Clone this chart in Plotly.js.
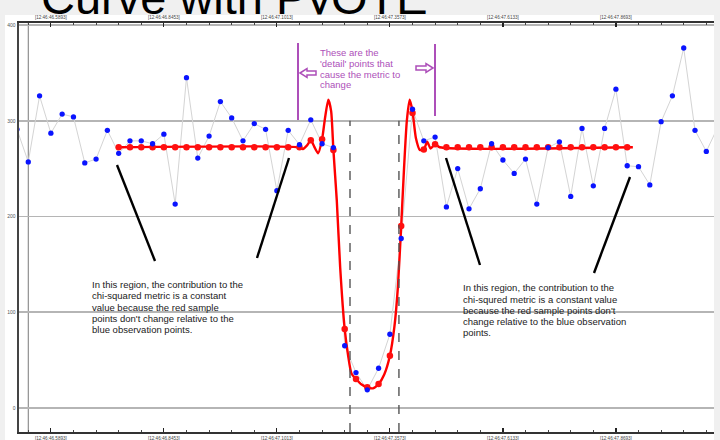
<!DOCTYPE html>
<html><head><meta charset="utf-8">
<script src="https://cdn.plot.ly/plotly-3.0.1.min.js"></script>
<style>html,body{margin:0;padding:0;background:#f0f0f0;} #chart{width:720px;height:440px;}</style>
</head><body><div id="chart"></div>
<script>
// ---- data ----
const obsStart = -1;   // index of first observation
const obsValues = [291,257,326,287,307,304,256,260,290,266,279,279,276,286,213,345,261,284,320,303,
  279,297,291,227,290,275,301,276,272,65,37,19,41.5,77,177,312,279,283,210,250,208,229,276,259,245,
  260,213,272,278,221,292,232,292,333,253,252,233,299,326,376,290,268,293];
const sampleStart = 8;
const sampleValues = [272.3,272.3,272.3,272.3,272.3,272.3,272.3,272.3,272.3,272.3,272.3,272.3,272.3,272.3,272.3,272.3,272.3,
  279.6,280.6,269.5,82.5,30.3,21.6,25,54.6,190,308,270,275.5,
  272.3,272.3,272.3,272.3,272.3,272.3,272.3,272.3,272.3,272.3,272.3,272.3,272.3,272.3,272.3,272.3,272.3];
const curveX = [7.8,23.9,24.3,24.65,25,25.3,25.65,26,26.25,26.55,26.8,27,27.3,27.6,28,28.3,28.6,29,29.5,30,30.5,31,31.5,32,32.4,32.7,33,33.25,33.5,33.75,34,34.3,34.65,35,35.3,35.6,36,36.4,53.5];
const curveY = [272.3,272.3,270.5,274,279.6,273,266,280.6,302,322,310,269.5,217,147,82.5,55,36,30.3,24.5,21.6,20.5,25,35,54.6,85,125,190,250,300,322,310,282,269.5,270,278,271,275.5,272.3,272.3];
const tickIndex = [2,12,22,32,42,52];
const tickLabels = ['[12:46:46.5893]','[12:46:46.8453]','[12:46:47.1013]','[12:46:47.3573]','[12:46:47.6133]','[12:46:47.8693]'];
const yTicks = [0,100,200,300,400];
const edgeLeft = 28.47, edgeRight = 32.8;

// ---- geometry helpers (pixel -> data) ----
const XR = [-0.82, 60.68], YR = [-25.1, 402.1];
const L = 19, T = 23, W = 695, H = 409;
function px(xp){ return XR[0] + (xp - L) / W * (XR[1] - XR[0]); }
function py(yp){ return YR[0] + (T + H - yp) / H * (YR[1] - YR[0]); }

const obsX = obsValues.map((v,i)=>obsStart+i);
const sampX = sampleValues.map((v,i)=>sampleStart+i);

const FONT = 'Liberation Sans, Arial, sans-serif';
const PURPLE = '#ad4fb9';

const traces = [
  {x: obsX, y: obsValues, type:'scatter', mode:'lines', line:{color:'#d4d4d4', width:1}, hoverinfo:'skip', showlegend:false},
  {x: curveX, y: curveY, type:'scatter', mode:'lines', line:{color:'#ff0000', width:2.4, shape:'spline', smoothing:0.6}, hoverinfo:'skip', showlegend:false},
  {x: sampX, y: sampleValues, type:'scatter', mode:'markers', marker:{color:'#ff1010', size:6.5}, showlegend:false},
  {x: obsX, y: obsValues, type:'scatter', mode:'markers', marker:{color:'#0a14ff', size:5.3}, showlegend:false},
  {x:[null], y:[null], xaxis:'x2', type:'scatter', mode:'markers', showlegend:false, hoverinfo:'skip'}
];

const shapes = [];
// white slide panel
shapes.push({type:'rect', xref:'paper', yref:'paper', x0:(5-L)/W, x1:(714-L)/W, y0:(T+H-440)/H, y1:(T+H-15)/H, fillcolor:'#ffffff', line:{width:0}, layer:'below'});
// vertical line at first observation
shapes.push({type:'line', xref:'x', yref:'y', x0:0, x1:0, y0:YR[0], y1:YR[1], line:{color:'#7a7a7a', width:1}, layer:'below'});
// dashed edges
[edgeLeft, edgeRight].forEach(e=>shapes.push({type:'line', xref:'x', yref:'y', x0:e, x1:e, y0:YR[0], y1:300, line:{color:'#555', width:1.4, dash:'dash'}}));
// black callout lines
[[117,165,155,261],[289,158,257,258],[446,158,480,265],[630,177,594,273]].forEach(s=>shapes.push({
  type:'line', xref:'x', yref:'y', x0:px(s[0]), y0:py(s[1]), x1:px(s[2]), y1:py(s[3]), line:{color:'#000', width:2.4}}));
// purple vertical bars
[[298,43,298,120],[435,44,435,116]].forEach(s=>shapes.push({
  type:'line', xref:'x', yref:'y', x0:px(s[0]), y0:py(s[1]), x1:px(s[2]), y1:py(s[3]), line:{color:PURPLE, width:2}}));
// purple hollow block arrows
function poly(pts){ return 'M' + pts.map(p=>px(p[0])+','+py(p[1])).join(' L') + ' Z'; }
shapes.push({type:'path', xref:'x', yref:'y', path: poly([[300,73],[307,68.5],[307,71],[316,71],[316,75],[307,75],[307,77.5]]), line:{color:PURPLE, width:1.5}, fillcolor:'rgba(0,0,0,0)'});
shapes.push({type:'path', xref:'x', yref:'y', path: poly([[433,68],[426,63.5],[426,66],[416,66],[416,70],[426,70],[426,72.5]]), line:{color:PURPLE, width:1.5}, fillcolor:'rgba(0,0,0,0)'});

const annotations = [];
function textLines(lines, x, ys, color){
  lines.forEach((t,k)=>annotations.push({text:t, x:px(x), y:py(ys[k]), xref:'x', yref:'y', xanchor:'left', yanchor:'middle',
    showarrow:false, borderpad:0, borderwidth:0, font:{family:FONT, size:9.5, color:color}}));
}
textLines(['These are the',"'detail' points that",'cause the metric to','change'], 320, [52.5,63.3,74.1,84.9], PURPLE);
textLines(['In this region, the contribution to the','chi-squared metric is a constant','value because the red sample',"points don't change relative to the",'blue observation points.'],
  91.5, [284,295.5,307,318.3,329.2], '#1a1a1a');
textLines(['In this region, the contribution to the','chi-squred metric is a constant value',"because the red sample points don't",'change relative to the blue observation','points.'],
  463, [287.7,299,310.3,321.5,332.7], '#1a1a1a');
// slide title, cut off by the window top and by the chart panel (explicit box height clips it)
annotations.push({text:'Curve with PyOTE', xref:'paper', yref:'paper', x:(41-L)/W, y:(T+H-15)/H, xanchor:'left', yanchor:'bottom',
  height:43.5, width:400, align:'left', valign:'top',
  showarrow:false, borderpad:0, borderwidth:0, font:{family:FONT, size:47, color:'#000'}});

const xBase = {range:XR, tickmode:'array', tickvals:tickIndex, ticktext:tickLabels, ticks:'inside', ticklen:4, tickwidth:1.2, tickcolor:'#222',
  showline:true, linecolor:'#333', linewidth:2, showgrid:false, zeroline:false,
  tickfont:{family:FONT, size:4.6, color:'#444'},
  minor:{tickmode:'linear', tick0:0, dtick:2, ticks:'inside', ticklen:2, tickcolor:'#444', tickwidth:1, showgrid:false}};

const layout = {
  width:720, height:440, margin:{l:L, r:720-L-W, t:T, b:440-T-H},
  paper_bgcolor:'#f0f0f0', plot_bgcolor:'#ffffff', showlegend:false,
  xaxis: Object.assign({}, xBase, {side:'bottom', anchor:'y'}),
  xaxis2: Object.assign({}, xBase, {side:'top', overlaying:'x', anchor:'y', minor:Object.assign({}, xBase.minor)}),
  yaxis: {range:YR, tickmode:'array', tickvals:yTicks, ticktext:yTicks.map(String), showgrid:true, gridcolor:'#b5b5b5', gridwidth:1.5,
    zeroline:false, showline:true, linecolor:'#444', linewidth:2.5, ticks:'', tickfont:{family:FONT, size:5, color:'#555'}},
  shapes: shapes, annotations: annotations
};
Plotly.newPlot('chart', traces, layout, {staticPlot:true, displayModeBar:false});
</script></body></html>
